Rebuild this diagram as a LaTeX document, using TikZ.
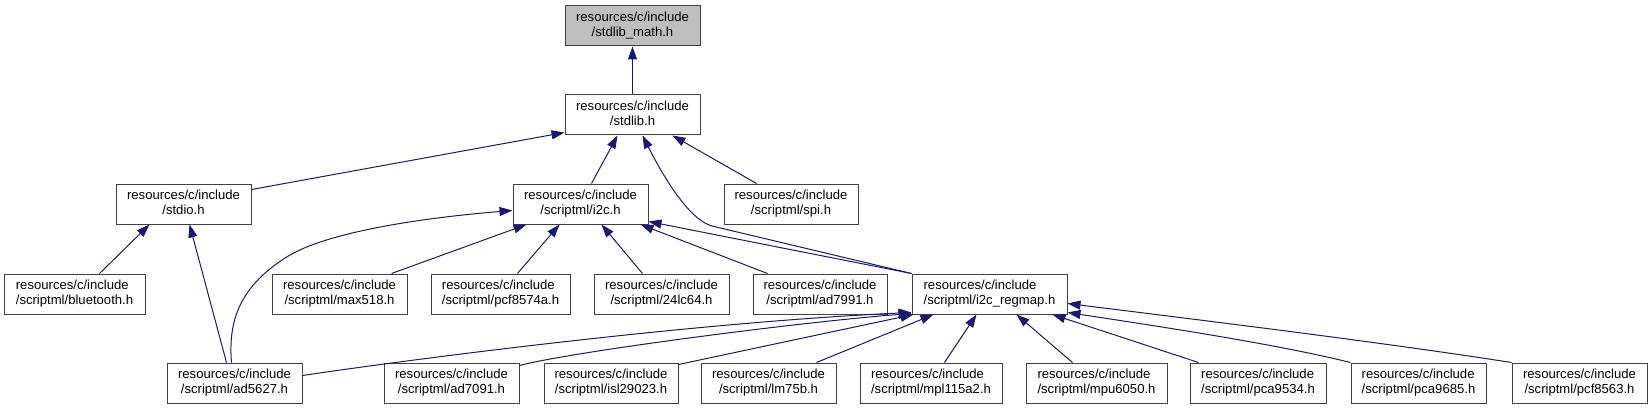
\documentclass[tikz,border=0pt]{standalone}
\usepackage{fontspec}
\setmainfont{Liberation Sans}
\usetikzlibrary{arrows.meta,calc}
\definecolor{navy}{RGB}{25,25,112}
\definecolor{rootgrey}{RGB}{191,191,191}
\definecolor{boxline}{RGB}{64,64,64}
\newcommand{\lbfont}{\fontsize{13.1}{14.5}\selectfont}
\newcommand{\twolines}[2]{\begin{tabular}{@{}c@{}}\multicolumn{1}{@{}l@{}}{#1}\\#2\end{tabular}}
\begin{document}
\begin{tikzpicture}[x=1pt,y=-1pt,
  filebox/.style={draw=boxline, line width=1pt, inner sep=0pt, minimum height=40pt, fill=white, font=\lbfont},
  dep/.style={draw=navy, line width=1pt, -{Triangle[length=13pt,width=9pt]}}]
\useasboundingbox (0,0) rectangle (1652,409);
% row 1
\node[filebox, fill=rootgrey, minimum width=135pt] (math) at (632.5,26) {\twolines{resources/c/include}{/stdlib\_math.h}};
% row 2
\node[filebox, minimum width=135pt] (stdlib) at (632.5,115) {\twolines{resources/c/include}{/stdlib.h}};
% row 3
\node[filebox, minimum width=135pt] (stdio) at (183.5,204) {\twolines{resources/c/include}{/stdio.h}};
\node[filebox, minimum width=135pt] (i2c) at (580.5,204) {\twolines{resources/c/include}{/scriptml/i2c.h}};
\node[filebox, minimum width=134pt] (spi) at (791,204) {\twolines{resources/c/include}{/scriptml/spi.h}};
% row 4
\node[filebox, minimum width=141pt] (bluetooth) at (74.5,294) {\twolines{resources/c/include}{/scriptml/bluetooth.h}};
\node[filebox, minimum width=135pt] (max518) at (339.5,294) {\twolines{resources/c/include}{/scriptml/max518.h}};
\node[filebox, minimum width=139pt] (pcf8574a) at (500.5,294) {\twolines{resources/c/include}{/scriptml/pcf8574a.h}};
\node[filebox, minimum width=135pt] (lc64) at (661.5,294) {\twolines{resources/c/include}{/scriptml/24lc64.h}};
\node[filebox, minimum width=134pt] (ad7991) at (820,294) {\twolines{resources/c/include}{/scriptml/ad7991.h}};
\node[filebox, minimum width=155pt] (regmap) at (989.5,294) {\twolines{resources/c/include}{/scriptml/i2c\_regmap.h}};
% row 5
\node[filebox, minimum width=135pt] (ad5627) at (234.5,383) {\twolines{resources/c/include}{/scriptml/ad5627.h}};
\node[filebox, minimum width=135pt] (ad7091) at (451.5,383) {\twolines{resources/c/include}{/scriptml/ad7091.h}};
\node[filebox, minimum width=134pt] (isl29023) at (611,383) {\twolines{resources/c/include}{/scriptml/isl29023.h}};
\node[filebox, minimum width=135pt] (lm75b) at (768.5,383) {\twolines{resources/c/include}{/scriptml/lm75b.h}};
\node[filebox, minimum width=142pt] (mpl115a2) at (931,383) {\twolines{resources/c/include}{/scriptml/mpl115a2.h}};
\node[filebox, minimum width=141pt] (mpu6050) at (1096.5,383) {\twolines{resources/c/include}{/scriptml/mpu6050.h}};
\node[filebox, minimum width=136pt] (pca9534) at (1258,383) {\twolines{resources/c/include}{/scriptml/pca9534.h}};
\node[filebox, minimum width=135pt] (pca9685) at (1418.5,383) {\twolines{resources/c/include}{/scriptml/pca9685.h}};
\node[filebox, minimum width=135pt] (pcf8563) at (1579.5,383) {\twolines{resources/c/include}{/scriptml/pcf8563.h}};
% edges
\draw[dep] (stdlib.north) -- (math.south);
\draw[dep] ($(stdio.north east)+(0,6)$) -- ($(stdlib.south west)+(0,-3)$);
\draw[dep] ($(i2c.north west)+(79,0)$) -- ($(stdlib.south west)+(53,0)$);
\draw[dep] (regmap.north west) -- (712,226) .. controls (690,220) and (665,180) .. ($(stdlib.south west)+(78,0)$);
\draw[dep] ($(spi.north west)+(33,0)$) -- ($(stdlib.south east)+(-28,0)$);
\draw[dep] ($(bluetooth.north west)+(96,0)$) -- ($(stdio.south west)+(34,0)$);
\draw[dep] ($(ad5627.north west)+(60,0)$) -- ($(stdio.south west)+(74,0)$);
\draw[dep] ($(ad5627.north west)+(65,0)$) .. controls (228,320) and (240,285) .. (290,255) .. controls (330,232) and (420,218) .. ($(i2c.north west)+(0,27)$);
\draw[dep] ($(max518.north west)+(120,0)$) -- ($(i2c.south west)+(14,0)$);
\draw[dep] ($(pcf8574a.north west)+(87,0)$) -- ($(i2c.south west)+(47,0)$);
\draw[dep] ($(lc64.north west)+(49,0)$) -- ($(i2c.south west)+(89,0)$);
\draw[dep] ($(ad7991.north west)+(15,0)$) -- ($(i2c.south east)+(-8,0)$);
\draw[dep] (regmap.north west) -- ($(i2c.south east)+(0,-3)$);
\draw[dep] ($(ad5627.north east)+(0,13)$) .. controls (420,358) and (700,322) .. ($(regmap.south west)+(0,-2)$);
\draw[dep] ($(ad7091.north east)+(0,3)$) .. controls (570,352) and (800,322) .. ($(regmap.south west)+(0,-1)$);
\draw[dep] ($(isl29023.north east)+(0,2)$) -- ($(regmap.south west)+(2,0)$);
\draw[dep] ($(lm75b.north west)+(116,0)$) -- ($(regmap.south west)+(22,0)$);
\draw[dep] ($(mpl115a2.north west)+(85,0)$) -- ($(regmap.south west)+(65,0)$);
\draw[dep] ($(mpu6050.north west)+(47,0)$) -- ($(regmap.south west)+(105,0)$);
\draw[dep] ($(pca9534.north west)+(9,0)$) -- ($(regmap.south west)+(141,0)$);
\draw[dep] (pca9685.north west) .. controls (1280,345) and (1170,328) .. ($(regmap.south east)+(0,-2)$);
\draw[dep] (pcf8563.north west) .. controls (1380,342) and (1200,320) .. ($(regmap.south east)+(0,-11)$);
\end{tikzpicture}
\end{document}
